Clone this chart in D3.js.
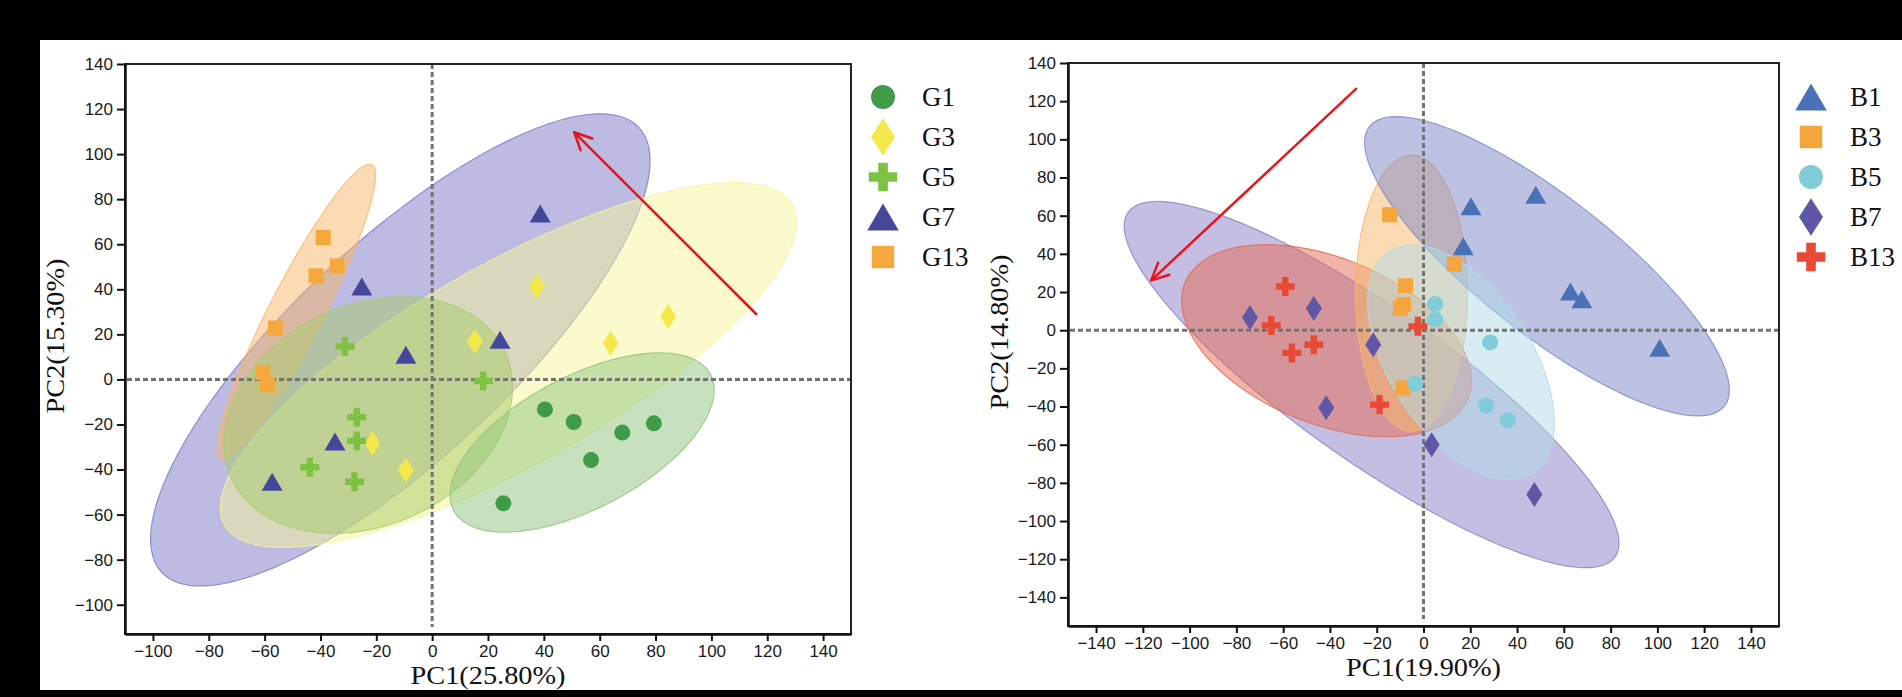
<!DOCTYPE html>
<html>
<head>
<meta charset="utf-8">
<script src="https://cdn.jsdelivr.net/npm/d3@7"></script>
<style>
  html, body { margin: 0; padding: 0; background: #000; }
  svg { display: block; }
  .tick text { font-family: "Liberation Sans", Arial, sans-serif; font-size: 17px; fill: #1a1a1a; }
  .title { font-family: "Liberation Serif", "Times New Roman", serif; font-size: 26px; fill: #111; }
  .legend text { font-family: "Liberation Serif", "Times New Roman", serif; font-size: 27px; fill: #111; }
</style>
</head>
<body>
<svg width="1902" height="697"></svg>
<script>
// ---- data: left panel (G) ----
var leftGroups = ["G1", "G3", "G5", "G7", "G13"];
var leftPC1 = [
  [40.4, 50.7, 79.4, 68.1, 56.9, 25.5],
  [37.5, 15.3, 63.9, 84.5, -21.4, -9.4],
  [-31.2, 18.3, -27.0, -27.0, -43.8, -27.8],
  [-25.2, -9.4, 24.3, 38.7, -34.8, -57.3],
  [-39.0, -41.6, -34.0, -56.1, -60.6, -59.0]
];
var leftPC2 = [
  [-13.3, -18.9, -19.5, -23.6, -35.8, -55.0],
  [41.2, 16.8, 16.1, 27.9, -28.4, -40.2],
  [14.6, -0.7, -16.8, -27.3, -39.0, -45.4],
  [41.2, 10.9, 17.6, 73.6, -27.6, -45.4],
  [63.0, 46.0, 50.4, 22.8, 3.0, -2.4]
];
// ellipse: centre, half major axis vector, half minor axis vector (data units)
var leftEllCenter = [[53.7, -28.0], [27.3, 6.4], [-22.9, -15.8], [-11.4, 13.1], [-48.6, 30.1]];
var leftEllMajor = [[46.0, 30.2], [101.6, 71.1], [48.9, 28.2], [85.4, 98.8], [27.0, 65.2]];
var leftEllMinor = [[11.1, -25.9], [17.7, -38.7], [16.7, -44.3], [26.6, -35.0], [8.6, -5.5]];
var leftArrow = [[116.3, 28.7], [50.9, 109.7]];
var leftXTicks = [-100, -80, -60, -40, -20, 0, 20, 40, 60, 80, 100, 120, 140];
var leftYTicks = [-100, -80, -60, -40, -20, 0, 20, 40, 60, 80, 100, 120, 140];

// ---- data: right panel (B) ----
var rightGroups = ["B1", "B3", "B5", "B7", "B13"];
var rightPC1 = [
  [20.3, 48.0, 17.0, 62.8, 67.7, 101.0],
  [-14.5, 13.2, -7.7, -8.5, -9.9, -8.8],
  [5.0, 5.0, 28.5, -3.5, 26.8, 36.1],
  [-74.2, -46.9, -21.5, -41.6, 3.5, 47.4],
  [-59.1, -65.1, -56.3, -46.9, -2.4, -18.8]
];
var rightPC2 = [
  [65.0, 71.0, 44.0, 20.3, 16.2, -9.2],
  [60.5, 34.7, 23.3, 13.4, 11.6, -30.3],
  [13.7, 5.5, -6.4, -28.0, -39.5, -47.2],
  [6.7, 11.3, -7.6, -40.7, -60.0, -86.1],
  [22.9, 2.5, -11.9, -7.6, 2.0, -39.0]
];
var rightEllCenter = [[52.8, 33.5], [-5.1, 19.4], [16.0, -16.8], [-22.2, -28.5], [-41.5, -5.5]];
var rightEllMajor = [[75.9, -73.2], [0, 72.3], [30.7, -58.0], [104.1, -90.3], [60.5, -30.3]];
var rightEllMinor = [[-17.9, -28.1], [23.9, 0], [-25.5, -20.3], [-18.8, -32.5], [-13.4, -40.2]];
var rightArrow = [[-28.5, 126.8], [-116.4, 26.1]];
var rightXTicks = [-140, -120, -100, -80, -60, -40, -20, 0, 20, 40, 60, 80, 100, 120, 140];
var rightYTicks = [-140, -120, -100, -80, -60, -40, -20, 0, 20, 40, 60, 80, 100, 120, 140];

// ---- styles ----
var leftShapes = ["circle", "diamond", "cross", "triangle", "square"];
var leftColors = ["#3f9b48", "#f4e84b", "#7dc243", "#45479b", "#f5a83c"];
var leftFills = ["#8fc47d", "#f5f59a", "#a8cc6a", "#7c78c4", "#f6b86a"];
var leftOrder = [3, 1, 4, 2, 0];   // ellipse drawing order

var rightShapes = ["triangle", "square", "circle", "diamond", "cross"];
var rightColors = ["#4a70b7", "#f4a53c", "#80ccd9", "#5f57a5", "#e84a36"];
var rightFills = ["#7c86c8", "#f6b86a", "#afdce8", "#8a80c6", "#e36a50"];
var rightOrder = [3, 4, 1, 0, 2];

var svg = d3.select("svg");
svg.append("rect").attr("x", 40).attr("y", 40).attr("width", 1862).attr("height", 650).attr("fill", "#fff");

function shapePath(shape, k) {
  if (shape == "circle") {
    var r = 8 * k;
    return "M" + (-r) + ",0a" + r + "," + r + " 0 1,0 " + (2 * r) + ",0a" + r + "," + r + " 0 1,0 " + (-2 * r) + ",0Z";
  }
  if (shape == "diamond") {
    var w = 8 * k, h = 12.5 * k;
    return "M0," + (-h) + "L" + w + ",0L0," + h + "L" + (-w) + ",0Z";
  }
  if (shape == "triangle") {
    var tw = 10.5 * k, th = 9 * k;
    return "M0," + (-th) + "L" + tw + "," + th + "L" + (-tw) + "," + th + "Z";
  }
  if (shape == "square") {
    var a = 7.5 * k;
    return "M" + (-a) + "," + (-a) + "h" + (2 * a) + "v" + (2 * a) + "h" + (-2 * a) + "Z";
  }
  // cross
  var c = 9.5 * k, t = 3.2 * k;
  return "M" + (-t) + "," + (-c) + "h" + (2 * t) + "v" + (c - t) + "h" + (c - t) + "v" + (2 * t) +
    "h" + (t - c) + "v" + (c - t) + "h" + (-2 * t) + "v" + (t - c) + "h" + (t - c) + "v" + (-2 * t) +
    "h" + (c - t) + "Z";
}

function drawPanel(p) {
  var x = d3.scaleLinear().domain(p.xDomain).range(p.xRange);
  var y = d3.scaleLinear().domain(p.yDomain).range(p.yRange);
  var g = svg.append("g");

  // ellipses
  var line = d3.line().curve(d3.curveLinearClosed);
  p.order.forEach(function (i) {
    var pts = d3.range(0, 120).map(function (j) {
      var t = j / 120 * 2 * Math.PI;
      var vx = p.ellC[i][0] + p.ellA[i][0] * Math.cos(t) + p.ellB[i][0] * Math.sin(t);
      var vy = p.ellC[i][1] + p.ellA[i][1] * Math.cos(t) + p.ellB[i][1] * Math.sin(t);
      return [x(vx), y(vy)];
    });
    g.append("path")
      .attr("d", line(pts))
      .attr("fill", p.fills[i])
      .attr("fill-opacity", 0.5)
      .attr("stroke", p.fills[i])
      .attr("stroke-opacity", 0.8)
      .attr("stroke-width", 1.2);
  });

  // zero lines
  g.append("line")
    .attr("x1", x(0)).attr("x2", x(0))
    .attr("y1", p.yRange[1]).attr("y2", p.yRange[0] - 7)
    .attr("stroke", "#727272").attr("stroke-width", 3).attr("stroke-dasharray", "5,3");
  g.append("line")
    .attr("x1", p.xRange[0] + 2).attr("x2", p.xRange[1])
    .attr("y1", y(0)).attr("y2", y(0))
    .attr("stroke", "#727272").attr("stroke-width", 3).attr("stroke-dasharray", "5,3");

  // arrow
  var a0 = [x(p.arrow[0][0]), y(p.arrow[0][1])];
  var a1 = [x(p.arrow[1][0]), y(p.arrow[1][1])];
  var ang = Math.atan2(a0[1] - a1[1], a0[0] - a1[0]);
  g.append("line")
    .attr("x1", a0[0]).attr("y1", a0[1]).attr("x2", a1[0]).attr("y2", a1[1])
    .attr("stroke", "#e8141b").attr("stroke-width", 2.5);
  [-0.45, 0.45].forEach(function (d) {
    g.append("line")
      .attr("x1", a1[0]).attr("y1", a1[1])
      .attr("x2", a1[0] + 19 * Math.cos(ang + d)).attr("y2", a1[1] + 19 * Math.sin(ang + d))
      .attr("stroke", "#e8141b").attr("stroke-width", 2.5).attr("stroke-linecap", "round");
  });

  // points
  p.groups.forEach(function (name, i) {
    p.pc1[i].forEach(function (v, j) {
      g.append("path")
        .attr("d", shapePath(p.shapes[i], 1))
        .attr("transform", "translate(" + x(v) + "," + y(p.pc2[i][j]) + ")")
        .attr("fill", p.colors[i]);
    });
  });

  // frame
  g.append("rect")
    .attr("x", p.xRange[0]).attr("y", p.yRange[1])
    .attr("width", p.xRange[1] - p.xRange[0]).attr("height", p.yRange[0] - p.yRange[1])
    .attr("fill", "none").attr("stroke", "#222").attr("stroke-width", 2);

  var xAxis = g.append("g")
    .attr("transform", "translate(0," + p.yRange[0] + ")")
    .call(d3.axisBottom(x).tickValues(p.xTicks).tickSize(7).tickSizeOuter(0).tickPadding(4));
  var yAxis = g.append("g")
    .attr("transform", "translate(" + p.xRange[0] + ",0)")
    .call(d3.axisLeft(y).tickValues(p.yTicks).tickSize(8).tickSizeOuter(0).tickPadding(4));
  [xAxis, yAxis].forEach(function (ax) {
    ax.select(".domain").attr("stroke", "#111").attr("stroke-width", 2.5);
    ax.selectAll(".tick line").attr("stroke", "#111").attr("stroke-width", 2);
  });

  // titles
  var cx = (p.xRange[0] + p.xRange[1]) / 2;
  g.append("text").attr("class", "title")
    .attr("x", cx).attr("y", p.xTitleY)
    .attr("text-anchor", "middle")
    .attr("textLength", 155).attr("lengthAdjust", "spacingAndGlyphs")
    .text(p.xTitle);
  g.append("text").attr("class", "title")
    .attr("transform", "translate(" + p.yTitleX + "," + p.yTitleMid + ") rotate(-90)")
    .attr("text-anchor", "middle")
    .attr("textLength", 155).attr("lengthAdjust", "spacingAndGlyphs")
    .text(p.yTitle);

  // legend
  var leg = g.append("g").attr("class", "legend");
  p.groups.forEach(function (name, i) {
    var ly = 97 + i * 40;
    leg.append("path")
      .attr("d", shapePath(p.shapes[i], 1.5))
      .attr("transform", "translate(" + p.legX + "," + ly + ")")
      .attr("fill", p.colors[i]);
    leg.append("text").attr("x", p.legX + 39).attr("y", ly + 9).text(name);
  });
}

drawPanel({
  groups: leftGroups, pc1: leftPC1, pc2: leftPC2,
  ellC: leftEllCenter, ellA: leftEllMajor, ellB: leftEllMinor, arrow: leftArrow,
  xTicks: leftXTicks, yTicks: leftYTicks,
  shapes: leftShapes, colors: leftColors, fills: leftFills, order: leftOrder,
  xDomain: [-110, 150], xRange: [125, 851],
  yDomain: [-113, 140], yRange: [634, 64],
  xTitle: "PC1(25.80%)", xTitleY: 684,
  yTitle: "PC2(15.30%)", yTitleX: 64, yTitleMid: 336,
  legX: 883
});

drawPanel({
  groups: rightGroups, pc1: rightPC1, pc2: rightPC2,
  ellC: rightEllCenter, ellA: rightEllMajor, ellB: rightEllMinor, arrow: rightArrow,
  xTicks: rightXTicks, yTicks: rightYTicks,
  shapes: rightShapes, colors: rightColors, fills: rightFills, order: rightOrder,
  xDomain: [-152, 152], xRange: [1068, 1779],
  yDomain: [-155, 140], yRange: [626, 63],
  xTitle: "PC1(19.90%)", xTitleY: 676,
  yTitle: "PC2(14.80%)", yTitleX: 1008, yTitleMid: 332,
  legX: 1811
});
</script>
</body>
</html>
